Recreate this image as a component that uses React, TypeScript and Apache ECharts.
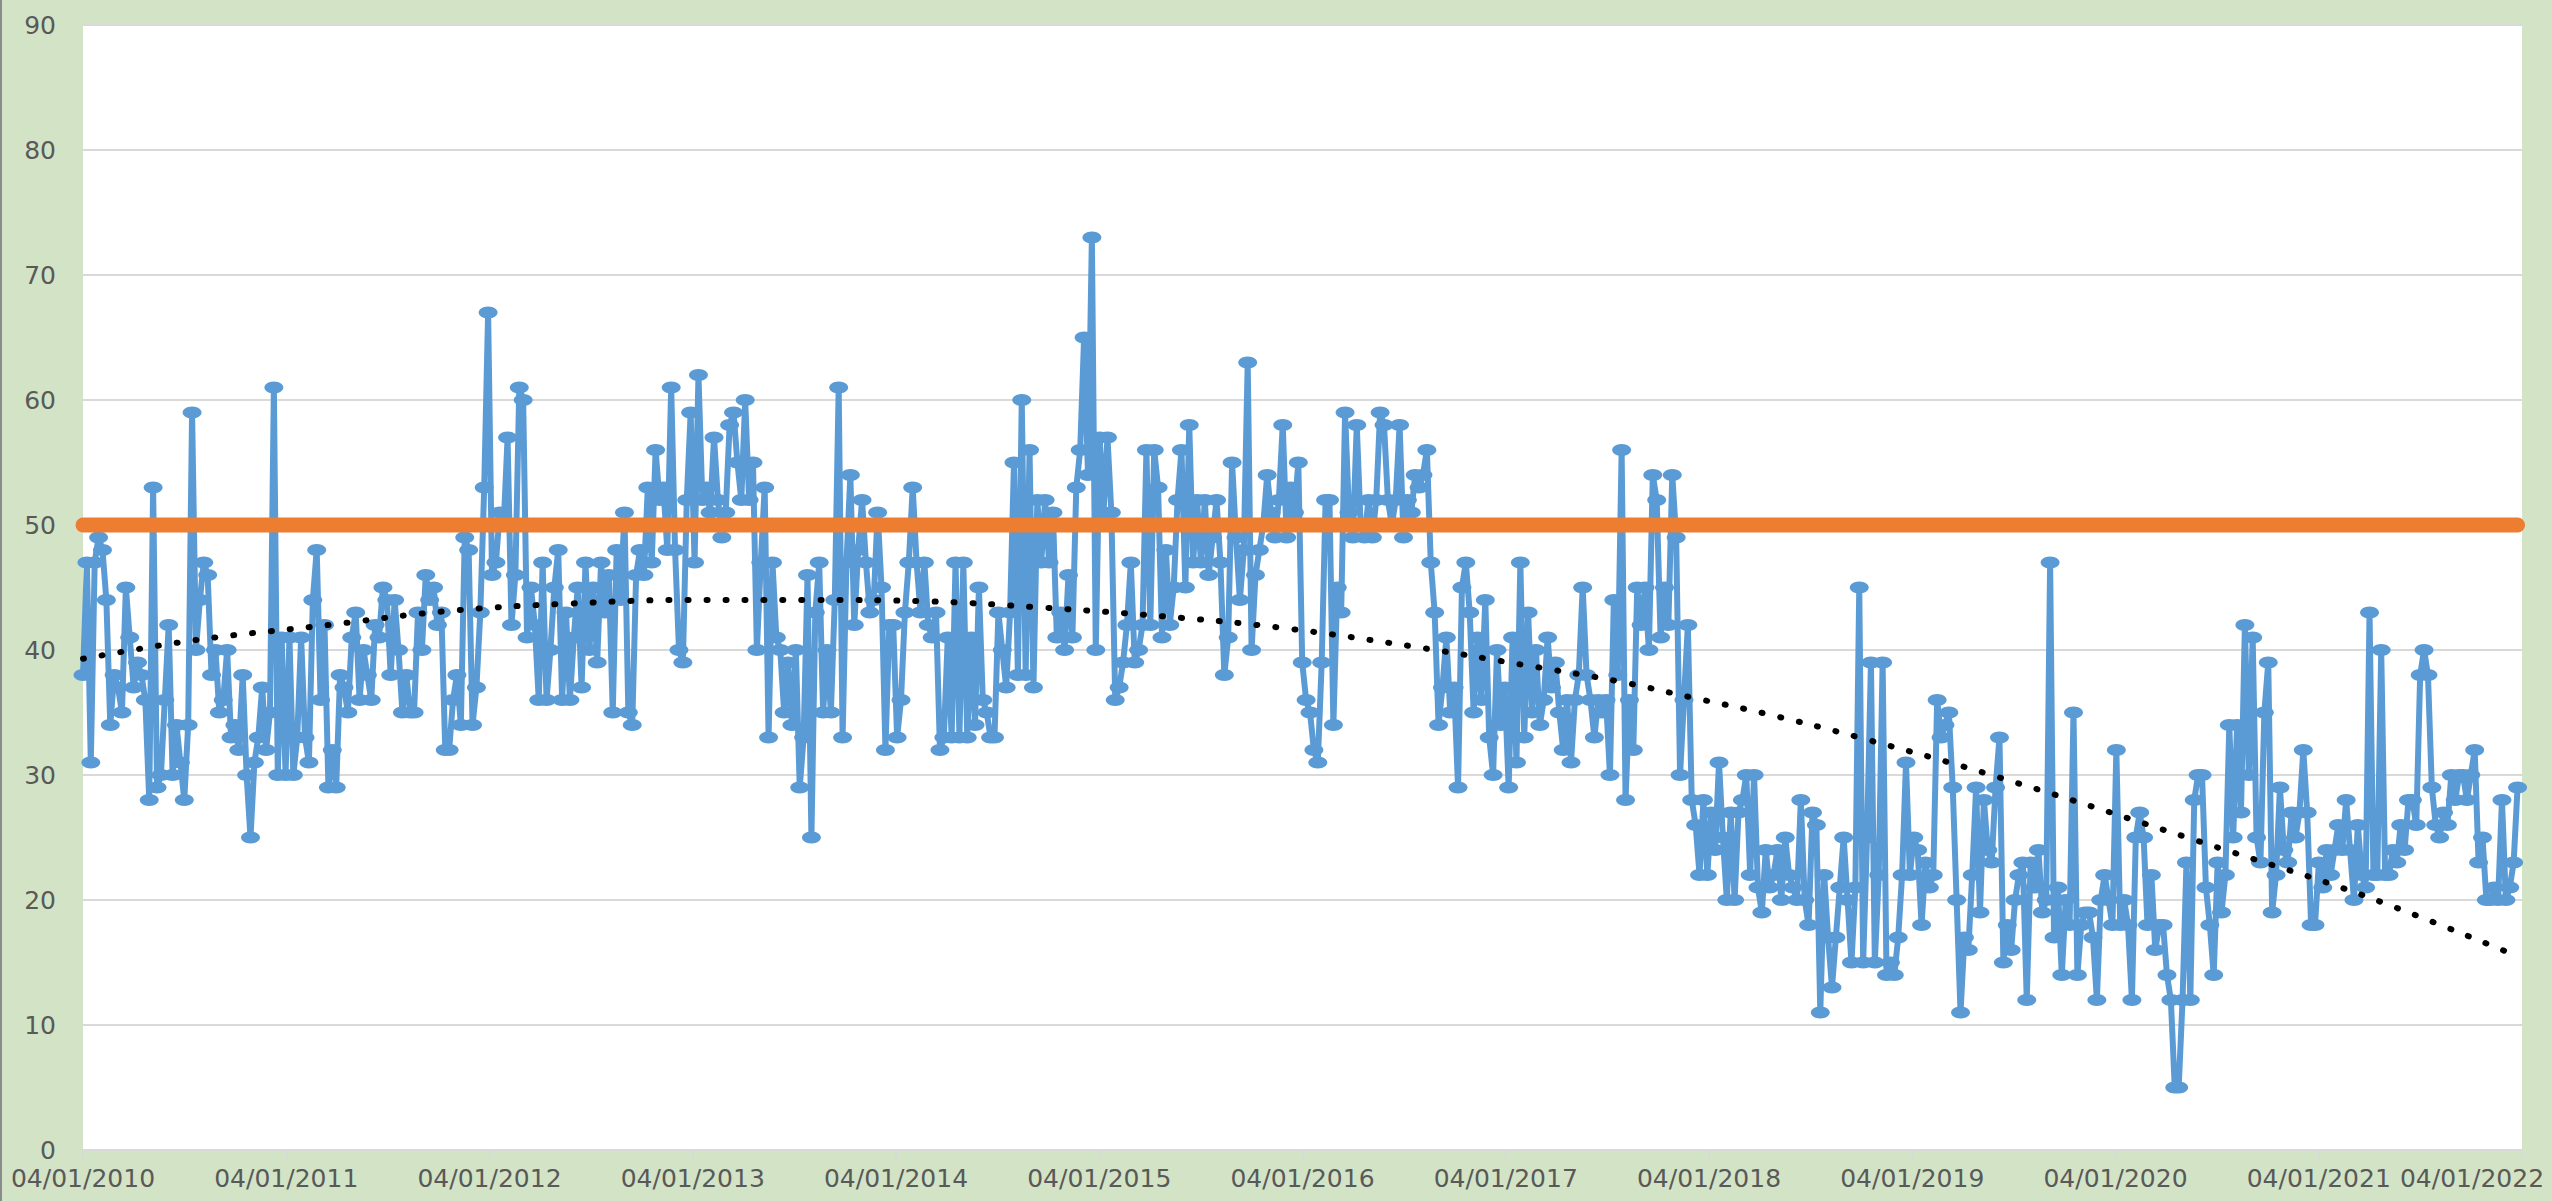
import React, { useEffect, useRef } from "react";
import * as echarts from "echarts";

const tickLabels = [
  "04/01/2010", "04/01/2011", "04/01/2012", "04/01/2013", "04/01/2014", "04/01/2015", "04/01/2016",
  "04/01/2017", "04/01/2018", "04/01/2019", "04/01/2020", "04/01/2021", "04/01/2022",
];

// weekly values, first week = 04/01/2010
const values2010 = [38, 47, 31, 47, 49, 48, 44, 34, 38, 37, 35, 45, 41, 37, 39, 38, 36, 28, 53, 29, 30, 36, 42, 30, 34, 31, 28, 34, 59, 40, 44, 47, 46, 38, 40, 35, 36, 40, 33, 34, 32, 38, 30, 25, 31, 33, 37, 32, 35, 61, 30, 41];
const values2011 = [30, 41, 30, 33, 41, 33, 31, 44, 48, 36, 42, 29, 32, 29, 38, 37, 35, 41, 43, 36, 40, 38, 36, 42, 41, 45, 44, 38, 44, 40, 35, 38, 35, 35, 43, 40, 46, 44, 45, 42, 43, 32, 32, 36, 38, 34, 49, 48, 34, 37, 43, 53];
const values2012 = [67, 46, 47, 51, 50, 57, 42, 46, 61, 60, 41, 45, 42, 36, 47, 36, 40, 45, 48, 36, 43, 36, 41, 45, 37, 47, 40, 45, 39, 47, 43, 46, 35, 48, 44, 51, 35, 34, 46, 48, 46, 53, 47, 56, 52, 53, 48, 61, 48, 40, 39, 52];
const values2013 = [59, 47, 62, 52, 53, 51, 57, 52, 49, 51, 58, 59, 55, 52, 60, 52, 55, 40, 47, 53, 33, 47, 41, 40, 35, 39, 34, 40, 29, 33, 46, 25, 43, 47, 35, 40, 35, 44, 61, 33, 47, 54, 42, 48, 52, 47, 43, 44, 51, 45, 32, 42];
const values2014 = [42, 33, 36, 43, 47, 53, 47, 43, 47, 42, 41, 43, 32, 33, 41, 33, 47, 33, 47, 33, 41, 34, 45, 36, 35, 33, 33, 43, 40, 37, 43, 55, 38, 60, 38, 56, 37, 52, 47, 52, 47, 51, 41, 43, 40, 46, 41, 53, 56, 65, 54, 73];
const values2015 = [40, 57, 51, 57, 51, 36, 37, 39, 42, 47, 39, 40, 42, 56, 42, 56, 53, 41, 48, 42, 45, 52, 56, 45, 58, 47, 52, 47, 52, 46, 49, 52, 47, 38, 41, 55, 49, 44, 48, 63, 40, 46, 48, 50, 54, 51, 49, 52, 58, 49, 53, 51];
const values2016 = [55, 39, 36, 35, 32, 31, 39, 52, 52, 34, 45, 43, 59, 51, 49, 58, 50, 49, 52, 49, 52, 59, 58, 52, 50, 52, 58, 49, 52, 51, 54, 53, 54, 56, 47, 43, 34, 37, 41, 35, 37, 29, 45, 47, 43, 35, 41, 36, 44, 33, 30, 40];
const values2017 = [34, 37, 29, 41, 31, 47, 33, 43, 35, 40, 34, 36, 41, 37, 39, 35, 32, 36, 31, 36, 38, 45, 38, 36, 33, 36, 35, 36, 30, 44, 38, 56, 28, 36, 32, 45, 42, 45, 40, 54, 52, 41, 45, 42, 54, 49, 30, 36, 42, 28, 26, 22];
const values2018 = [28, 22, 27, 24, 31, 25, 20, 27, 20, 27, 28, 30, 22, 30, 21, 19, 24, 21, 22, 24, 20, 25, 22, 21, 20, 28, 20, 18, 27, 26, 11, 22, 17, 13, 17, 21, 25, 20, 15, 21, 45, 15, 25, 39, 15, 22, 39, 14, 15, 14, 17, 22];
const values2019 = [31, 22, 25, 24, 18, 23, 21, 22, 36, 33, 34, 35, 29, 20, 11, 17, 16, 22, 29, 19, 28, 24, 23, 29, 33, 15, 18, 16, 20, 22, 23, 12, 23, 21, 24, 19, 20, 47, 17, 21, 14, 20, 18, 35, 14, 18, 19, 19, 17, 12, 20, 22];
const values2020 = [20, 18, 32, 18, 20, 18, 12, 25, 27, 25, 18, 22, 16, 18, 18, 14, 12, 5, 5, 12, 23, 12, 28, 30, 30, 21, 18, 14, 23, 19, 22, 34, 25, 34, 27, 42, 30, 41, 25, 23, 35, 39, 19, 22, 29, 24, 23, 27, 25, 27, 32, 27];
const values2021 = [18, 18, 23, 21, 24, 22, 24, 26, 24, 28, 24, 20, 26, 22, 21, 43, 22, 22, 40, 22, 22, 24, 23, 26, 24, 28, 28, 26, 38, 40, 38, 29, 26, 25, 27, 26, 30, 28, 30, 30, 28, 30, 32, 23, 25, 20, 20, 21, 20, 28, 20, 21, 23, 29];

const targetLevel = 50;

// dotted trend line (week index, value)
const trendWeeks = [0, 29, 63, 93, 124, 155, 186, 216, 246, 277, 307, 341, 370, 394, 413, 432, 456, 492, 552, 586, 625];
const trendValues = [39.3, 40.8, 42, 43.1, 43.7, 44, 44, 43.9, 43.4, 42.7, 41.8, 40.3, 38.8, 37.5, 36.2, 34.9, 33, 29.8, 23.8, 20.3, 15.5];

const DAYS_PER_WEEK = 7;
const DAYS_PER_YEAR = 365.25;

export default function App() {
  const ref = useRef<HTMLDivElement>(null);

  useEffect(() => {
    document.body.style.margin = "0";
    const chart = echarts.init(ref.current!, undefined, { renderer: "svg" });

    const weekly = [
      ...values2010, ...values2011, ...values2012, ...values2013, ...values2014, ...values2015,
      ...values2016, ...values2017, ...values2018, ...values2019, ...values2020, ...values2021,
    ];
    const lineData = weekly.map((v, i) => [i * DAYS_PER_WEEK, v]);
    const lastDay = (weekly.length - 1) * DAYS_PER_WEEK;
    const targetData = [[0, targetLevel], [lastDay, targetLevel]];
    const trendData = trendWeeks.map((w, i) => [w * DAYS_PER_WEEK, trendValues[i]]);

    const labelFont = { fontSize: 25, fontFamily: "DejaVu Sans", color: "#595959" };

    chart.setOption({
      animation: false,
      backgroundColor: "#D3E4C6",
      graphic: [
        { type: "rect", shape: { x: 0, y: 0, width: 2, height: 1201 }, style: { fill: "#8C8C8C" } },
      ],
      grid: {
        left: 83, top: 25, width: 2439, height: 1125,
        show: true, backgroundColor: "#FFFFFF", borderWidth: 0,
      },
      xAxis: {
        type: "value",
        min: 0,
        max: DAYS_PER_YEAR * (tickLabels.length - 1),
        interval: DAYS_PER_YEAR,
        axisLine: { show: true, lineStyle: { color: "#D9D9D9", width: 2 } },
        axisTick: { show: true, length: 9, lineStyle: { color: "#D9D9D9", width: 2 } },
        splitLine: { show: false },
        axisLabel: {
          ...labelFont,
          margin: 16,
          formatter: (v: number) => {
            const k = Math.round(v / DAYS_PER_YEAR);
            const t = tickLabels[k] ?? "";
            return k === tickLabels.length - 1 ? `{last|${t}}` : t;
          },
          rich: { last: { ...labelFont, padding: [0, 100, 0, 0] } },
        },
      },
      yAxis: {
        type: "value",
        min: 0,
        max: 90,
        interval: 10,
        axisLine: { show: false },
        axisTick: { show: false },
        splitLine: { show: true, lineStyle: { color: "#D9D9D9", width: 2 } },
        axisLabel: { ...labelFont, margin: 27 },
      },
      series: [
        {
          type: "line",
          data: lineData,
          clip: false,
          z: 2,
          symbol: "circle",
          symbolSize: [19, 12],
          itemStyle: { color: "#5B9BD5" },
          lineStyle: { color: "#5B9BD5", width: 6 },
          silent: true,
        },
        {
          type: "line",
          data: targetData,
          clip: false,
          z: 3,
          symbol: "none",
          lineStyle: { color: "#ED7D31", width: 15, cap: "round" },
          silent: true,
        },
        {
          type: "line",
          data: trendData,
          clip: false,
          z: 4,
          smooth: 0.4,
          symbol: "none",
          lineStyle: { color: "#000000", width: 6, type: [1, 18], cap: "round" },
          silent: true,
        },
      ],
    });

    return () => chart.dispose();
  }, []);

  return <div ref={ref} style={{ width: 2552, height: 1201 }} />;
}
